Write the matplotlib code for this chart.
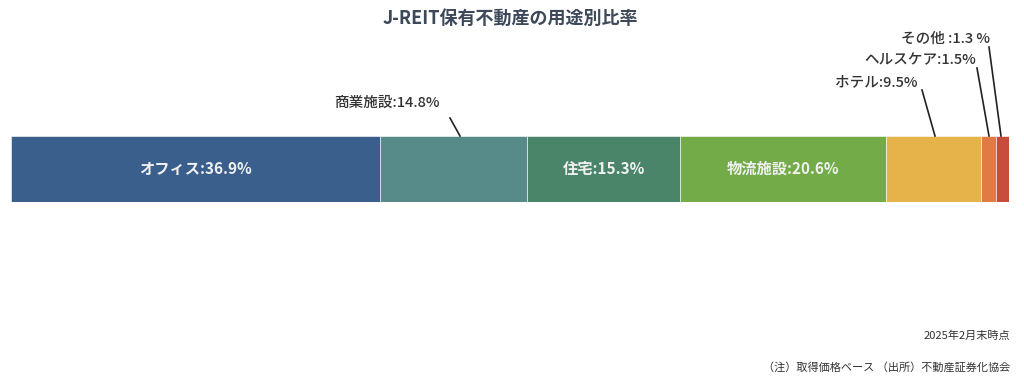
import matplotlib
matplotlib.use("Agg")
import matplotlib.pyplot as plt

plt.rcParams['font.family'] = ['Noto Sans CJK JP', 'DejaVu Sans']

categories = ["オフィス", "商業施設", "住宅", "物流施設", "ホテル", "ヘルスケア", "その他"]
values = [36.9, 14.8, 15.3, 20.6, 9.5, 1.5, 1.3]
colors = ["#3b5f8c", "#568b8a", "#4b8569", "#72ab48", "#e6b24a", "#e07b44", "#c94b3c"]
label_texts = ["オフィス:36.9%", "商業施設:14.8%", "住宅:15.3%", "物流施設:20.6%",
               "ホテル:9.5%", "ヘルスケア:1.5%", "その他 :1.3 %"]
inside = [True, False, True, True, False, False, False]

W, H = 1024, 382
fig = plt.figure(figsize=(W / 100, H / 100), dpi=100)
ax = fig.add_axes([11 / W, (H - 202) / H, (1009 - 11) / W, 66 / H])
total = sum(values)
ax.set_xlim(0, total)
ax.set_ylim(-0.5, 0.5)
ax.axis('off')

left = 0
lefts = []
for v, c in zip(values, colors):
    ax.barh(0, v, left=left, height=1.0, color=c, edgecolor='white', linewidth=0.4)
    lefts.append(left)
    left += v

# inside labels
for i, (txt, ins) in enumerate(zip(label_texts, inside)):
    if ins:
        ax.text(lefts[i] + values[i] / 2, 0, txt, ha='center', va='center',
                color='#f0f0f0', fontsize=11, fontweight='bold')

# outside labels with leader lines
outside_layout = {
    1: (440, 103, (450, 118), 460),
    4: (918, 82, (922, 90), 935),
    5: (976, 60, (977, 68), 989),
    6: (990, 39, (989, 47), 1001),
}
for i, (tx, ty, (sx, sy), ex) in outside_layout.items():
    fig.text(tx / W, 1 - ty / H, label_texts[i], ha='right', va='center',
             fontsize=10.5, color='#333333', fontweight='medium')
    line = plt.Line2D([sx / W, ex / W], [1 - sy / H, 1 - 136 / H],
                      transform=fig.transFigure, color='#222222', linewidth=1.2)
    fig.add_artist(line)

fig.text(0.5 * (380 + 640) / W, 1 - 18 / H, "J-REIT保有不動産の用途別比率",
         ha='center', va='center', fontsize=13, fontweight='bold', color='#3d4859')

fig.text(1010 / W, 1 - 336 / H, "2025年2月末時点", ha='right', va='center',
         fontsize=8, color='#333333')
fig.text(1010 / W, 1 - 367 / H, "（注）取得価格ベース （出所）不動産証券化協会", ha='right',
         va='center', fontsize=8, color='#333333')

fig.savefig("out.png", dpi=100)
